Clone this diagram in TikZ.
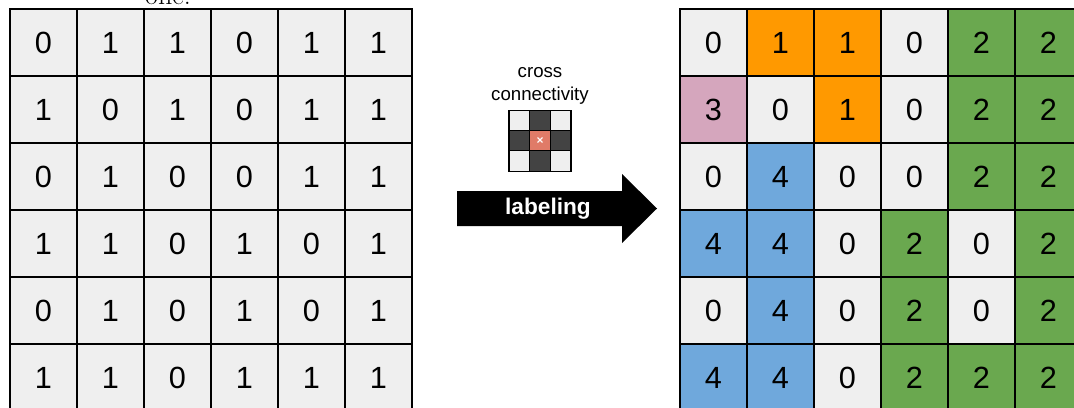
\documentclass[tikz,border=0pt]{standalone}
\usepackage{fontspec}
\newfontfamily\arial{Liberation Sans}

\definecolor{lab0}{HTML}{EFEFEF}
\definecolor{lab1}{HTML}{FF9900}
\definecolor{lab2}{HTML}{6AA84F}
\definecolor{lab3}{HTML}{D5A6BD}
\definecolor{lab4}{HTML}{6FA8DC}
\definecolor{icon0}{HTML}{EFEFEF}
\definecolor{icon1}{HTML}{434343}
\definecolor{icon2}{HTML}{E07B68}

\begin{document}
\begin{tikzpicture}[
  x=0.75pt, y=-0.75pt,
  cell/.style={rectangle, draw, line width=1.5pt, minimum size=50.25pt, inner sep=0pt, font=\arial\fontsize{23}{28}\selectfont},
  iconcell/.style={rectangle, draw, line width=1.2pt, minimum size=15.5pt, inner sep=0pt},
  smalltext/.style={font=\arial\fontsize{14}{17}\selectfont, align=center}
]
\useasboundingbox (0,0) rectangle (1074,407);
\clip (0,0) rectangle (1074,407);

% Caption text cut off at the top
\node[anchor=base, font=\fontsize{21}{24}\selectfont] (one) at (168,4) {one.};

% Input image
\foreach \row [count=\r] in {{0,1,1,0,1,1},{1,0,1,0,1,1},{0,1,0,0,1,1},{1,1,0,1,0,1},{0,1,0,1,0,1},{1,1,0,1,1,1}}
  \foreach \v [count=\c] in \row
    \node[cell, fill=lab0] (in-\r-\c) at (67*\c-23.5, 67*\r-24.5) {\v};

% Labeled image
\foreach \row [count=\r] in {{0,1,1,0,2,2},{3,0,1,0,2,2},{0,4,0,0,2,2},{4,4,0,2,0,2},{0,4,0,2,0,2},{4,4,0,2,2,2}}
  \foreach \v [count=\c] in \row
    \node[cell, fill=lab\v] (out-\r-\c) at (67*\c+646.5, 67*\r-24.5) {\v};

% Connectivity icon
\node[smalltext] (conn) at (540,86) {cross\\connectivity};
\foreach \row [count=\r] in {{0,1,0},{1,2,1},{0,1,0}}
  \foreach \v [count=\c] in \row
    \node[iconcell, fill=icon\v] (ic-\r-\c) at (540+20.7*\c-41.4, 141+20*\r-40) {};
\node[text=white, font=\arial\bfseries\fontsize{9}{9}\selectfont, inner sep=0pt] (mark) at (ic-2-2) {×};

% Arrow
\fill (457,191) -- (622,191) -- (622,174) -- (657,208.5) -- (622,243) -- (622,226) -- (457,226) -- cycle;
\node[text=white, font=\arial\bfseries\fontsize{17}{20}\selectfont] (lbl) at (548,208.5) {labeling};

\end{tikzpicture}
\end{document}
